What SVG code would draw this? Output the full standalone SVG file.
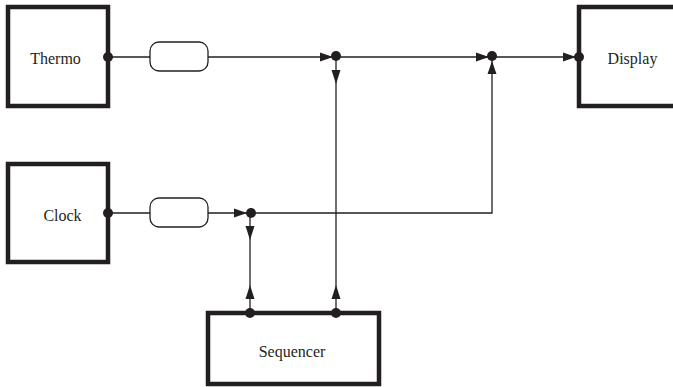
<svg xmlns="http://www.w3.org/2000/svg" width="673" height="387" viewBox="0 0 673 387">
<style>
.box{fill:#fff;stroke:#231f20;stroke-width:4.5}
.flt{fill:#fff;stroke:#231f20;stroke-width:1.3}
.ln{fill:none;stroke:#231f20;stroke-width:1.3}
.dot{fill:#231f20}
.ah{fill:#231f20}
text{font-family:"Liberation Serif","Times New Roman",serif;font-size:16px;fill:#231f20}
</style>
<rect width="673" height="387" fill="#fff"/>
<g id="connectors">
<path class="ln" d="M108 57H150M208 57H579"/>
<path class="ln" d="M108 213H150M208 213H492V56"/>
<path class="ln" d="M336 56V313"/>
<path class="ln" d="M250 213V313"/>
<polygon class="ah" points="333,57 320,52.5 320,61.5"/>
<polygon class="ah" points="489,57 476,52.5 476,61.5"/>
<polygon class="ah" points="576,57 563,52.5 563,61.5"/>
<polygon class="ah" points="336,84 331.5,70 340.5,70"/>
<polygon class="ah" points="492,61 487.5,74 496.5,74"/>
<polygon class="ah" points="247,213 234,208.5 234,217.5"/>
<polygon class="ah" points="250,240 245.5,226 254.5,226"/>
<polygon class="ah" points="250,285 245.5,299 254.5,299"/>
<polygon class="ah" points="336,285 331.5,299 340.5,299"/>
<circle class="dot" cx="336" cy="56" r="5"/>
<circle class="dot" cx="492" cy="56" r="5"/>
<circle class="dot" cx="251" cy="213" r="5"/>
</g>
<g id="thermo">
<rect class="box" x="8" y="7" width="100" height="99"/>
<text x="55.5" y="64" text-anchor="middle">Thermo</text>
<circle class="dot" cx="108" cy="57" r="5"/>
</g>
<g id="clock">
<rect class="box" x="8" y="164" width="100" height="98"/>
<text x="62.5" y="221" text-anchor="middle">Clock</text>
<circle class="dot" cx="108" cy="213" r="5"/>
</g>
<g id="display">
<rect class="box" x="579" y="7" width="110" height="99"/>
<text x="632.5" y="64" text-anchor="middle">Display</text>
<circle class="dot" cx="579" cy="57" r="5"/>
</g>
<g id="filter1">
<rect class="flt" x="150" y="42" width="58" height="29" rx="9"/>
</g>
<g id="filter2">
<rect class="flt" x="150" y="198" width="58" height="29" rx="9"/>
</g>
<g id="sequencer">
<rect class="box" x="208" y="313" width="171" height="71"/>
<text x="292" y="357" text-anchor="middle">Sequencer</text>
<circle class="dot" cx="250" cy="313" r="5"/>
<circle class="dot" cx="336" cy="313" r="5"/>
</g>
</svg>
